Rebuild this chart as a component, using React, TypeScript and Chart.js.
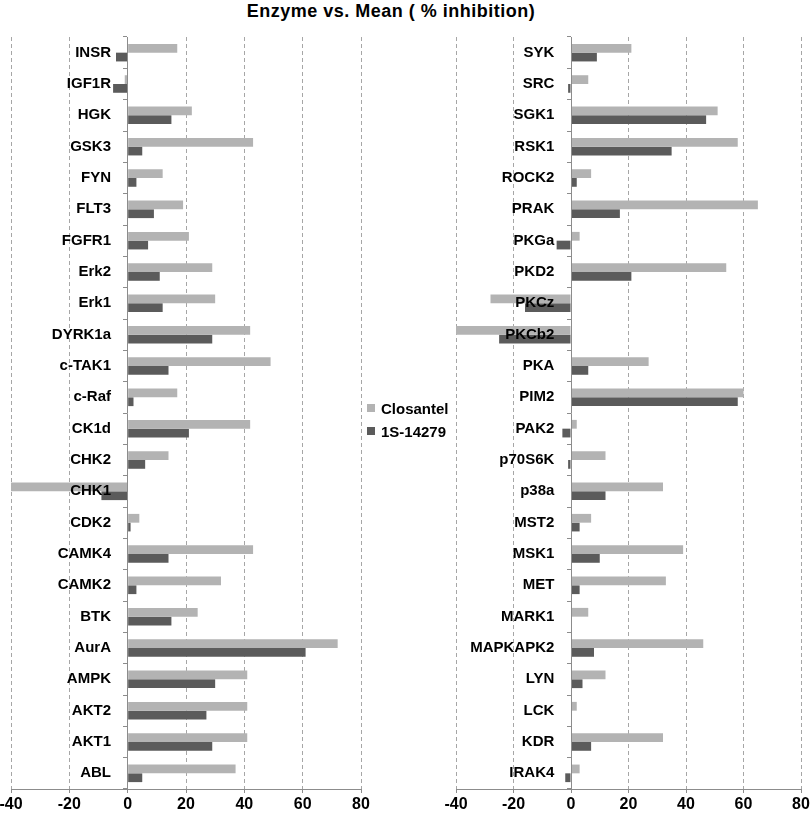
import React, { useEffect, useRef } from "react";
import { Chart, registerables } from "chart.js";
Chart.register(...registerables);

const titleText = "Enzyme vs. Mean ( % inhibition)";
const seriesNames = ["Closantel", "1S-14279"];
const seriesColors = ["#b3b3b3", "#5b5b5b"];

const leftCategories = ["INSR", "IGF1R", "HGK", "GSK3", "FYN", "FLT3", "FGFR1", "Erk2", "Erk1", "DYRK1a", "c-TAK1", "c-Raf", "CK1d", "CHK2", "CHK1", "CDK2", "CAMK4", "CAMK2", "BTK", "AurA", "AMPK", "AKT2", "AKT1", "ABL"];
const leftClosantel = [17, -1, 22, 43, 12, 19, 21, 29, 30, 42, 49, 17, 42, 14, -40, 4, 43, 32, 24, 72, 41, 41, 41, 37];
const left1S14279 = [-4, -5, 15, 5, 3, 9, 7, 11, 12, 29, 14, 2, 21, 6, -9, 1, 14, 3, 15, 61, 30, 27, 29, 5];

const rightCategories = ["SYK", "SRC", "SGK1", "RSK1", "ROCK2", "PRAK", "PKGa", "PKD2", "PKCz", "PKCb2", "PKA", "PIM2", "PAK2", "p70S6K", "p38a", "MST2", "MSK1", "MET", "MARK1", "MAPKAPK2", "LYN", "LCK", "KDR", "IRAK4"];
const rightClosantel = [21, 6, 51, 58, 7, 65, 3, 54, -28, -40, 27, 60, 2, 12, 32, 7, 39, 33, 6, 46, 12, 2, 32, 3];
const right1S14279 = [9, -1, 47, 35, 2, 17, -5, 21, -16, -25, 6, 58, -3, -1, 12, 3, 10, 3, 0, 8, 4, 0, 7, -2];

const xMin = -40;
const xMax = 80;
const xStep = 20;

const FONT = "'Liberation Sans', Arial, sans-serif";

function Panel(props: { categories: string[]; a: number[]; b: number[]; left: number; width: number; padL: number; padR: number }) {
  const ref = useRef<HTMLCanvasElement | null>(null);
  useEffect(() => {
    if (!ref.current) return;
    const chart = new Chart(ref.current, {
      type: "bar",
      data: {
        labels: props.categories,
        datasets: [
          { label: seriesNames[0], data: props.a, backgroundColor: seriesColors[0], borderWidth: 0, categoryPercentage: 0.56, barPercentage: 1 },
          { label: seriesNames[1], data: props.b, backgroundColor: seriesColors[1], borderWidth: 0, categoryPercentage: 0.56, barPercentage: 1 },
        ],
      },
      options: {
        indexAxis: "y",
        responsive: false,
        animation: false,
        layout: { padding: { left: props.padL, right: props.padR, top: 12, bottom: 1 } },
        plugins: { legend: { display: false }, tooltip: { enabled: false }, title: { display: false } },
        scales: {
          x: {
            type: "linear",
            min: xMin,
            max: xMax,
            ticks: { stepSize: xStep, color: "#000", font: { family: FONT, size: 16, weight: "bold", lineHeight: 1.5 }, padding: 0 },
            grid: { color: "#a6a6a6", lineWidth: 1, drawTicks: true, tickLength: 4, tickColor: "#8c8c8c" },
            border: { display: true, color: "#8c8c8c", dash: [4, 3] },
          },
          y: {
            type: "category",
            position: { x: 0 } as any,
            ticks: {
              color: "#000",
              font: { family: FONT, size: 15, weight: "bold" },
              padding: 0,
              autoSkip: false,
              z: 1,
              callback: function (this: any, v: any) {
                return this.getLabelForValue(v) + "    ";
              },
            },
            grid: { drawOnChartArea: false, drawTicks: true, tickLength: 4, color: "#8c8c8c", tickColor: "#8c8c8c" },
            border: { display: true, color: "#8c8c8c", z: 1 },
          },
        },
      },
    });
    return () => chart.destroy();
  }, []);
  return (
    <canvas
      ref={ref}
      width={props.width}
      height={793}
      style={{ position: "absolute", left: props.left, top: 25, width: props.width, height: 793 }}
    />
  );
}

export default function App() {
  return (
    <div style={{ position: "absolute", left: 0, top: 0, width: 810, height: 818, overflow: "hidden", background: "#fff", fontFamily: FONT }}>
      <div style={{ position: "absolute", left: 0, width: 782, top: 1, textAlign: "center", fontWeight: "bold", fontSize: 18, letterSpacing: 0.5, lineHeight: "20px", color: "#000" }}>
        {titleText}
      </div>
      <Panel categories={leftCategories} a={leftClosantel} b={left1S14279} left={-14} width={390} padL={25} padR={15} />
      <Panel categories={rightCategories} a={rightClosantel} b={right1S14279} left={436} width={374} padL={20} padR={9} />
      {seriesNames.map((n, i) => (
        <div key={n} style={{ position: "absolute", left: 367, top: 399 + i * 23, height: 18, display: "flex", alignItems: "center", fontWeight: "bold", fontSize: 15, color: "#000" }}>
          <span style={{ display: "inline-block", width: 8, height: 8, background: seriesColors[i], marginRight: 6 }} />
          {n}
        </div>
      ))}
    </div>
  );
}
